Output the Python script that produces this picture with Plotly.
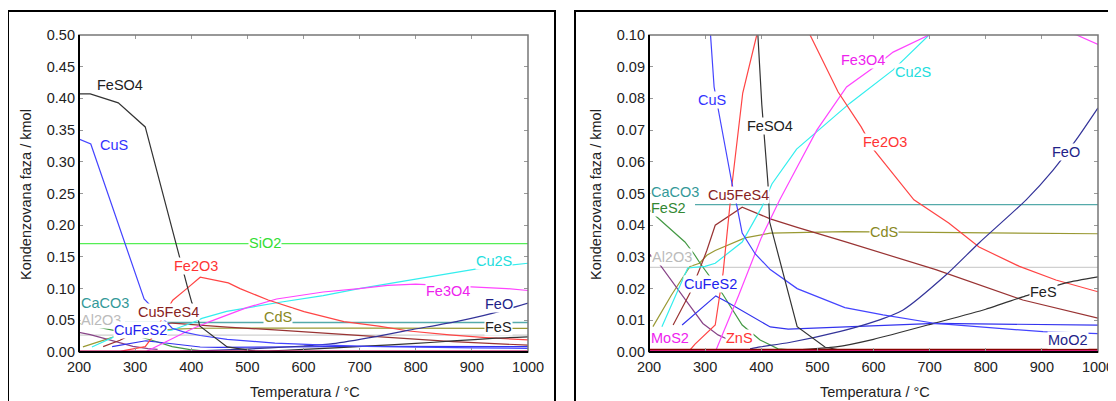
import plotly.graph_objects as go

# the page adds an 8 px body margin, so the figure is drawn 8 px in from the corner
OFF = 8
W, H = 1116 - OFF, 401 - OFF


def px_x(p):
    return (p - OFF) / W


def px_y(p):
    return 1 - (p - OFF) / H


# temperatures (°C) and condensed phase amounts (kmol)
feso4_t = [200, 220, 270, 318, 394, 401, 412, 415, 464, 514, 560, 1000]
feso4_v = [0.407, 0.407, 0.393, 0.355, 0.100, 0.078, 0.053, 0.041, 0.008, 0.0015, 0.0, 0.0]

cus_t = [200, 221, 316, 348, 357, 366, 389, 416, 464, 549, 617, 711, 902, 1000]
cus_v = [0.336, 0.328, 0.0836, 0.053, 0.0457, 0.0375, 0.031, 0.026, 0.020, 0.014, 0.0117, 0.009, 0.0064, 0.0058]

sio2_t = [200, 1000]
sio2_v = [0.171, 0.171]

fe2o3_t = [270, 282, 318, 332, 348, 367, 392, 416, 466, 487, 537, 578, 601, 672, 734, 788, 860, 925, 1000]
fe2o3_v = [0.0, 0.0025, 0.0085, 0.025, 0.053, 0.0817, 0.100, 0.118, 0.109, 0.100, 0.082, 0.071, 0.0637,
           0.048, 0.0407, 0.0331, 0.027, 0.0227, 0.019]

cu2s_t = [223, 269, 300, 318, 366, 401, 419, 463, 558, 635, 699, 800, 909, 1000]
cu2s_v = [0.008, 0.0265, 0.027, 0.028, 0.0347, 0.0457, 0.053, 0.064, 0.0785, 0.089, 0.100, 0.115, 0.131, 0.140]

fe3o4_t = [318, 360, 400, 433, 460, 499, 552, 599, 635, 699, 750, 800, 850, 909, 962, 1000]
fe3o4_v = [0.0, 0.018, 0.036, 0.048, 0.057, 0.070, 0.0836, 0.0896, 0.0946, 0.100, 0.105, 0.107, 0.105,
           0.102, 0.100, 0.097]

feo_t = [380, 398, 450, 541, 600, 652, 729, 788, 872, 920, 961, 1000]
feo_v = [0.001, 0.0016, 0.003, 0.0065, 0.0095, 0.0132, 0.0243, 0.0344, 0.048, 0.0574, 0.0669, 0.077]

fes_t = [400, 450, 533, 600, 711, 800, 866, 943, 1000]
fes_v = [0.0, 0.0005, 0.0016, 0.004, 0.0092, 0.0135, 0.0174, 0.0218, 0.0237]

cu5fes4_t = [243, 273, 290, 303, 318, 366, 416, 464, 549, 711, 866, 1000]
cu5fes4_v = [0.0085, 0.0186, 0.026, 0.032, 0.040, 0.0457, 0.042, 0.0393, 0.0348, 0.026, 0.0164, 0.0107]

cds_t = [207, 240, 273, 290, 303, 318, 371, 416, 549, 700, 1000]
cds_v = [0.008, 0.018, 0.027, 0.028, 0.0305, 0.032, 0.036, 0.0375, 0.038, 0.0378, 0.0373]

fes2_t = [200, 214, 264, 280, 291, 330, 366, 398, 430, 500]
fes2_v = [0.045, 0.0426, 0.0347, 0.031, 0.028, 0.0186, 0.0085, 0.0038, 0.001, 0.0]

caco3_t = [282, 1000]
caco3_v = [0.0465, 0.0465]

al2o3_t = [200, 1000]
al2o3_v = [0.0267, 0.0267]

cufes2_t = [259, 319, 339, 371, 416, 448, 549, 711, 1000]
cufes2_v = [0.0085, 0.0177, 0.0158, 0.0126, 0.0079, 0.0072, 0.0079, 0.009, 0.0085]

zns_t = [200, 220, 269, 296, 323, 340]
zns_v = [0.031, 0.0274, 0.0155, 0.009, 0.0054, 0.004]

mos2_t = [200, 1000]
mos2_v = [0.0003, 0.0003]

cu_t = [200, 1000]
cu_v = [0.0008, 0.0008]

# name, T, value, colour, width, smooth
series = [
    ("SiO2", sio2_t, sio2_v, "#55ee55", 1.3, False),
    ("Al2O3", al2o3_t, al2o3_v, "#d0d0d0", 1.3, False),
    ("CaCO3", caco3_t, caco3_v, "#55aaaa", 1.3, False),
    ("CdS", cds_t, cds_v, "#999933", 1.2, False),
    ("FeS2", fes2_t, fes2_v, "#449944", 1.2, False),
    ("ZnS", zns_t, zns_v, "#884488", 1.2, False),
    ("Cu5FeS4", cu5fes4_t, cu5fes4_v, "#993333", 1.2, False),
    ("CuFeS2", cufes2_t, cufes2_v, "#3333ee", 1.2, False),
    ("Cu2S", cu2s_t, cu2s_v, "#33eeee", 1.2, False),
    ("Fe3O4", fe3o4_t, fe3o4_v, "#ff44ff", 1.2, False),
    ("Fe2O3", fe2o3_t, fe2o3_v, "#ff4444", 1.2, False),
    ("FeO", feo_t, feo_v, "#333399", 1.2, True),
    ("FeS", fes_t, fes_v, "#333333", 1.2, True),
    ("CuS", cus_t, cus_v, "#4444ff", 1.2, False),
    ("FeSO4", feso4_t, feso4_v, "#333333", 1.2, False),
    ("MoS2", mos2_t, mos2_v, "#ee2299", 2.5, False),
    ("Cu", cu_t, cu_v, "#880000", 1.6, False),
]

# inline labels: (text, T, value, colour)
labels_left = [
    ("FeSO4", 273, 0.421, "#222222"),
    ("CuS", 262, 0.326, "#3333ff"),
    ("SiO2", 531, 0.172, "#33dd33"),
    ("Fe2O3", 409, 0.136, "#ff3333"),
    ("CaCO3", 246, 0.077, "#339999"),
    ("Al2O3", 239, 0.050, "#bbbbbb"),
    ("Cu5FeS4", 359, 0.063, "#882222"),
    ("CuFeS2", 310, 0.035, "#2222ee"),
    ("CdS", 555, 0.055, "#888822"),
    ("Cu2S", 939, 0.1435, "#22dddd"),
    ("Fe3O4", 857, 0.096, "#ee22ee"),
    ("FeO", 948, 0.076, "#222288"),
    ("FeS", 948, 0.039, "#222222"),
]
labels_right = [
    ("CuS", 312, 0.0795, "#3333ff"),
    ("FeSO4", 416, 0.0713, "#222222"),
    ("Fe3O4", 581, 0.0921, "#ee22ee"),
    ("Cu2S", 670, 0.0883, "#22dddd"),
    ("Fe2O3", 620, 0.0662, "#ff3333"),
    ("FeO", 943, 0.0631, "#222288"),
    ("CaCO3", 246, 0.0505, "#339999"),
    ("FeS2", 234, 0.0455, "#338833"),
    ("Cu5FeS4", 359, 0.0495, "#882222"),
    ("CdS", 619, 0.0379, "#888822"),
    ("Al2O3", 241, 0.030, "#bbbbbb"),
    ("CuFeS2", 310, 0.0215, "#2222ee"),
    ("FeS", 902, 0.0189, "#222222"),
    ("MoS2", 237, 0.0044, "#ee22ee"),
    ("ZnS", 362, 0.0044, "#ff3333"),
    ("MoO2", 946, 0.0038, "#222288"),
]

x_ticks = [200, 300, 400, 500, 600, 700, 800, 900, 1000]
FONT = "Liberation Sans, Arial, sans-serif"

fig = go.Figure()
for axes in (("x", "y"), ("x2", "y2")):
    for name, t, v, col, w, smooth in series:
        line = dict(color=col, width=w)
        if smooth:
            line.update(shape="spline", smoothing=0.6)
        fig.add_trace(go.Scatter(x=t, y=v, mode="lines", name=name, xaxis=axes[0], yaxis=axes[1],
                                 line=line, showlegend=False, hoverinfo="skip"))

ydom = [px_y(352), px_y(35)]
axis_common = dict(showgrid=False, zeroline=False, showline=False, ticks="inside", ticklen=4,
                   tickcolor="#999999", tickwidth=1, mirror="ticks", automargin=False,
                   tickfont=dict(family=FONT, size=14.5, color="#222222"))
fig.update_layout(
    width=W, height=H, margin=dict(l=0, r=0, t=0, b=0, autoexpand=False),
    paper_bgcolor="white", plot_bgcolor="white",
    xaxis=dict(domain=[px_x(79), px_x(528)], range=[200, 1000], tickvals=x_ticks, anchor="y",
               ticklabelstandoff=4, **axis_common),
    yaxis=dict(domain=ydom, range=[0, 0.5], dtick=0.05, tickformat=".2f", anchor="x",
               ticklabelstandoff=3, **axis_common),
    xaxis2=dict(domain=[px_x(649), px_x(1098)], range=[200, 1000], tickvals=x_ticks, anchor="y2",
                ticklabelstandoff=4, **axis_common),
    yaxis2=dict(domain=ydom, range=[0, 0.1], dtick=0.01, tickformat=".2f", anchor="x2",
                ticklabelstandoff=3, **axis_common),
)

shapes = []
for xa, ya in (("x", "y"), ("x2", "y2")):
    shapes.append(dict(type="rect", xref=xa + " domain", yref=ya + " domain", x0=0, x1=1, y0=0, y1=1,
                       line=dict(color="#777777", width=1.5)))
    shapes.append(dict(type="line", xref=xa + " domain", yref=ya + " domain", x0=0, x1=0, y0=0, y1=1,
                       line=dict(color="black", width=2)))
    shapes.append(dict(type="line", xref=xa + " domain", yref=ya + " domain", x0=0, x1=1, y0=0, y1=0,
                       line=dict(color="black", width=2)))
# outer panel frames
shapes.append(dict(type="rect", xref="paper", yref="paper", x0=px_x(8), x1=px_x(555), y0=-0.1, y1=px_y(11),
                   line=dict(color="black", width=2)))
shapes.append(dict(type="rect", xref="paper", yref="paper", x0=px_x(575), x1=1.1, y0=-0.1, y1=px_y(11),
                   line=dict(color="black", width=2)))
fig.update_layout(shapes=shapes)

annotations = []
for labs, xa, ya in ((labels_left, "x", "y"), (labels_right, "x2", "y2")):
    for text, t, v, col in labs:
        annotations.append(dict(text=text, x=t, y=v, xref=xa, yref=ya, showarrow=False,
                                bgcolor="white", borderpad=0,
                                font=dict(family=FONT, size=14.5, color=col)))
for cx in (26, 596):
    annotations.append(dict(text="Kondenzovana faza / kmol", x=px_x(cx), y=px_y(195), xref="paper",
                            yref="paper", textangle=-90, showarrow=False, xanchor="center", yanchor="middle",
                            font=dict(family=FONT, size=14.5, color="#222222")))
for cx in (305, 875):
    annotations.append(dict(text="Temperatura / °C", x=px_x(cx), y=px_y(392), xref="paper", yref="paper",
                            showarrow=False, xanchor="center", yanchor="middle",
                            font=dict(family=FONT, size=14.5, color="#222222")))
fig.update_layout(annotations=annotations)

fig.write_html("out.html")
